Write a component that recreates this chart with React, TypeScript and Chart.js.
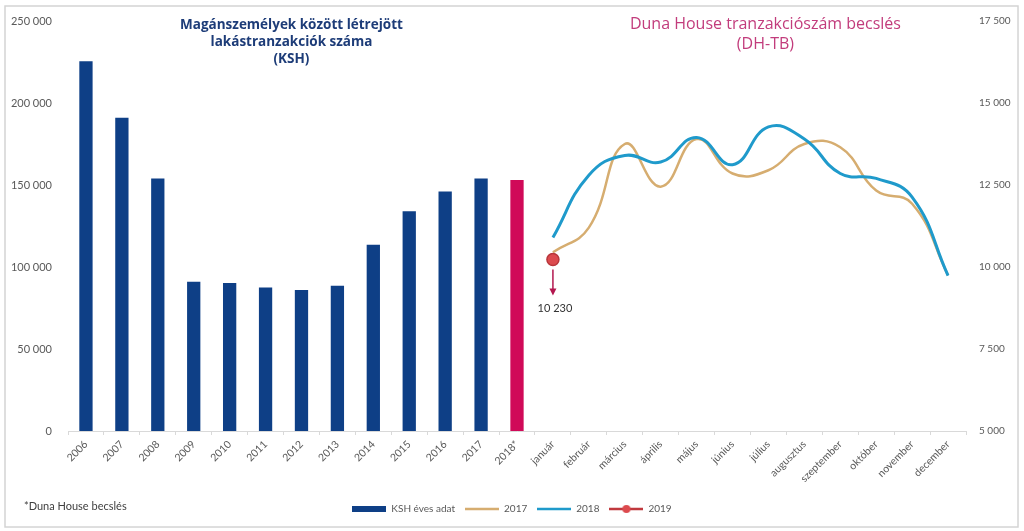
import React, { useEffect, useRef } from "react";
import { Chart, registerables } from "chart.js";

Chart.register(...registerables);

const years = ["2006", "2007", "2008", "2009", "2010", "2011", "2012", "2013", "2014", "2015", "2016", "2017", "2018*"];
const months = ["január", "február", "március", "április", "május", "június", "július", "augusztus", "szeptember", "október", "november", "december"];
const kshValues = [225500, 191000, 154000, 91000, 90200, 87500, 86000, 88500, 113600, 134000, 146000, 154000, 153000];
const dh2017 = [10450, 11200, 13750, 12450, 13900, 12850, 12950, 13750, 13650, 12330, 11930, 9750];
const dh2018 = [10900, 12800, 13400, 13200, 13950, 13120, 14270, 13900, 12850, 12700, 12130, 9740];
const dh2019 = [10230];
const leftTitle = ["Magánszemélyek között létrejött", "lakástranzakciók száma", "(KSH)"];
const rightTitle = ["Duna House tranzakciószám becslés", "(DH-TB)"];
const footnote = "*Duna House becslés";
const legendNames = ["KSH éves adat", "2017", "2018", "2019"];

const NAVY = "#0e3f86";
const CRIMSON = "#d00a58";
const GOLD = "#d6ad70";
const BLUE = "#1f9acb";
const RED = "#dc4a4e";
const FONT = "Lato, 'Open Sans', sans-serif";

const fmt = (v: number) => String(v).replace(/\B(?=(\d{3})+(?!\d))/g, " ");

function makeIcon(kind: string, color: string): HTMLCanvasElement {
  const c = document.createElement("canvas");
  c.width = 34;
  c.height = 12;
  const ctx = c.getContext("2d")!;
  if (kind === "bar") {
    ctx.fillStyle = color;
    ctx.fillRect(0, 3, 34, 6);
  } else {
    ctx.strokeStyle = color;
    ctx.lineWidth = 2.5;
    ctx.beginPath();
    ctx.moveTo(0, 6);
    ctx.lineTo(34, 6);
    ctx.stroke();
    if (kind === "dot") {
      ctx.fillStyle = RED;
      ctx.beginPath();
      ctx.arc(17, 6, 4, 0, Math.PI * 2);
      ctx.fill();
    }
  }
  return c;
}

export default function App() {
  const ref = useRef<HTMLCanvasElement>(null);
  useEffect(() => {
    if (!ref.current) return;
    const labels = [...years, ...months];
    const pad = (arr: number[]) => [...years.map(() => null), ...arr];
    const icons = [makeIcon("bar", NAVY), makeIcon("line", GOLD), makeIcon("line", BLUE), makeIcon("dot", "#c0393e")];

    const decor = {
      id: "decor",
      beforeDraw(chart: any) {
        const ctx = chart.ctx;
        ctx.save();
        ctx.fillStyle = "#ffffff";
        ctx.fillRect(0, 0, chart.width, chart.height);
        ctx.restore();
      },
      afterDraw(chart: any) {
        const ctx = chart.ctx;
        const xs = chart.scales.x;
        ctx.save();
        // frame
        ctx.strokeStyle = "#d4d4d4";
        ctx.lineWidth = 1.5;
        ctx.strokeRect(5, 6, chart.width - 11, chart.height - 10);
        // left title
        const lc = (xs.getPixelForValue(0) + xs.getPixelForValue(years.length - 1)) / 2 - 10;
        ctx.fillStyle = "#1d3c78";
        ctx.font = "bold 13.5px 'Open Sans', sans-serif";
        ctx.textAlign = "center";
        ctx.textBaseline = "middle";
        leftTitle.forEach((t, i) => ctx.fillText(t, lc, 25 + i * 17));
        // right title
        const rc = xs.getPixelForValue(years.length + 6) - 3;
        ctx.fillStyle = "#c23c7c";
        ctx.font = "16px 'Open Sans', sans-serif";
        rightTitle.forEach((t, i) => ctx.fillText(t, rc, 24 + i * 20));
        // 2019 annotation
        const meta = chart.getDatasetMeta(3);
        const pt = meta.data[years.length];
        if (pt) {
          const px = pt.x;
          const py = pt.y;
          ctx.strokeStyle = "#b3174f";
          ctx.fillStyle = "#b3174f";
          ctx.lineWidth = 1.5;
          ctx.beginPath();
          ctx.moveTo(px, py + 10);
          ctx.lineTo(px, py + 31);
          ctx.stroke();
          ctx.beginPath();
          ctx.moveTo(px - 3.5, py + 29);
          ctx.lineTo(px + 3.5, py + 29);
          ctx.lineTo(px, py + 36);
          ctx.closePath();
          ctx.fill();
          ctx.fillStyle = "#333333";
          ctx.font = "11px " + FONT;
          ctx.fillText(fmt(dh2019[0]), px + 2, py + 49);
        }
        // footnote
        ctx.textAlign = "left";
        ctx.fillStyle = "#404040";
        ctx.font = "11px " + FONT;
        ctx.fillText(footnote, 24, 506);
        ctx.restore();
      },
    };

    const chart = new Chart(ref.current, {
      type: "bar",
      data: {
        labels,
        datasets: [
          {
            type: "bar",
            label: legendNames[0],
            data: [...kshValues, ...months.map(() => null)],
            backgroundColor: kshValues.map((_, i) => (i === kshValues.length - 1 ? CRIMSON : NAVY)),
            categoryPercentage: 1,
            barPercentage: 0.37,
            yAxisID: "y",
            order: 4,
          },
          {
            type: "line",
            label: legendNames[1],
            data: pad(dh2017),
            borderColor: GOLD,
            borderWidth: 2.5,
            pointRadius: 0,
            tension: 0.45,
            yAxisID: "y1",
            order: 3,
          },
          {
            type: "line",
            label: legendNames[2],
            data: pad(dh2018),
            borderColor: BLUE,
            borderWidth: 3,
            pointRadius: 0,
            tension: 0.45,
            yAxisID: "y1",
            order: 2,
          },
          {
            type: "line",
            label: legendNames[3],
            data: pad(dh2019),
            borderColor: "#c0393e",
            backgroundColor: RED,
            pointBackgroundColor: RED,
            pointBorderColor: "#b8363b",
            pointBorderWidth: 1.5,
            pointRadius: 6,
            yAxisID: "y1",
            order: 1,
          },
        ] as any,
      },
      plugins: [decor],
      options: {
        animation: false,
        responsive: true,
        maintainAspectRatio: false,
        layout: { padding: { top: 21, left: 10, right: 10, bottom: 7 } },
        plugins: {
          tooltip: { enabled: false },
          legend: {
            position: "bottom",
            labels: {
              usePointStyle: true,
              pointStyleWidth: 34,
              boxHeight: 10,
              padding: 10,
              color: "#595959",
              font: { family: FONT, size: 10 },
              generateLabels: () =>
                legendNames.map((n, i) => ({
                  text: n,
                  pointStyle: icons[i],
                  fillStyle: "transparent",
                  strokeStyle: "transparent",
                  lineWidth: 0,
                  hidden: false,
                  datasetIndex: i,
                  fontColor: "#595959",
                })) as any,
            },
          },
        },
        scales: {
          x: {
            offset: true,
            grid: { display: true, drawOnChartArea: false, drawTicks: true, tickLength: 4, color: "#d9d9d9", offset: true },
            border: { display: true, color: "#d9d9d9" },
            ticks: {
              autoSkip: false,
              minRotation: 45,
              maxRotation: 45,
              padding: 3,
              color: "#595959",
              font: { family: FONT, size: 10.5 },
            },
            afterFit: (s: any) => {
              s.height = 63;
            },
          },
          y: {
            position: "left",
            min: 0,
            max: 250000,
            grid: { display: false },
            border: { display: false },
            ticks: {
              stepSize: 50000,
              padding: 8,
              color: "#595959",
              font: { family: FONT, size: 11 },
              callback: (v: any) => fmt(Number(v)),
            },
            afterFit: (s: any) => {
              s.width = 58;
            },
          },
          y1: {
            position: "right",
            min: 5000,
            max: 17500,
            grid: { display: false },
            border: { display: false },
            ticks: {
              stepSize: 2500,
              padding: 5,
              color: "#595959",
              font: { family: FONT, size: 10 },
              callback: (v: any) => fmt(Number(v)),
            },
            afterFit: (s: any) => {
              s.width = 48;
            },
          },
        },
      } as any,
    });
    return () => chart.destroy();
  }, []);

  return (
    <div style={{ position: "fixed", left: 0, top: 0, width: 1024, height: 531, background: "#fff" }}>
      <canvas ref={ref} />
    </div>
  );
}
